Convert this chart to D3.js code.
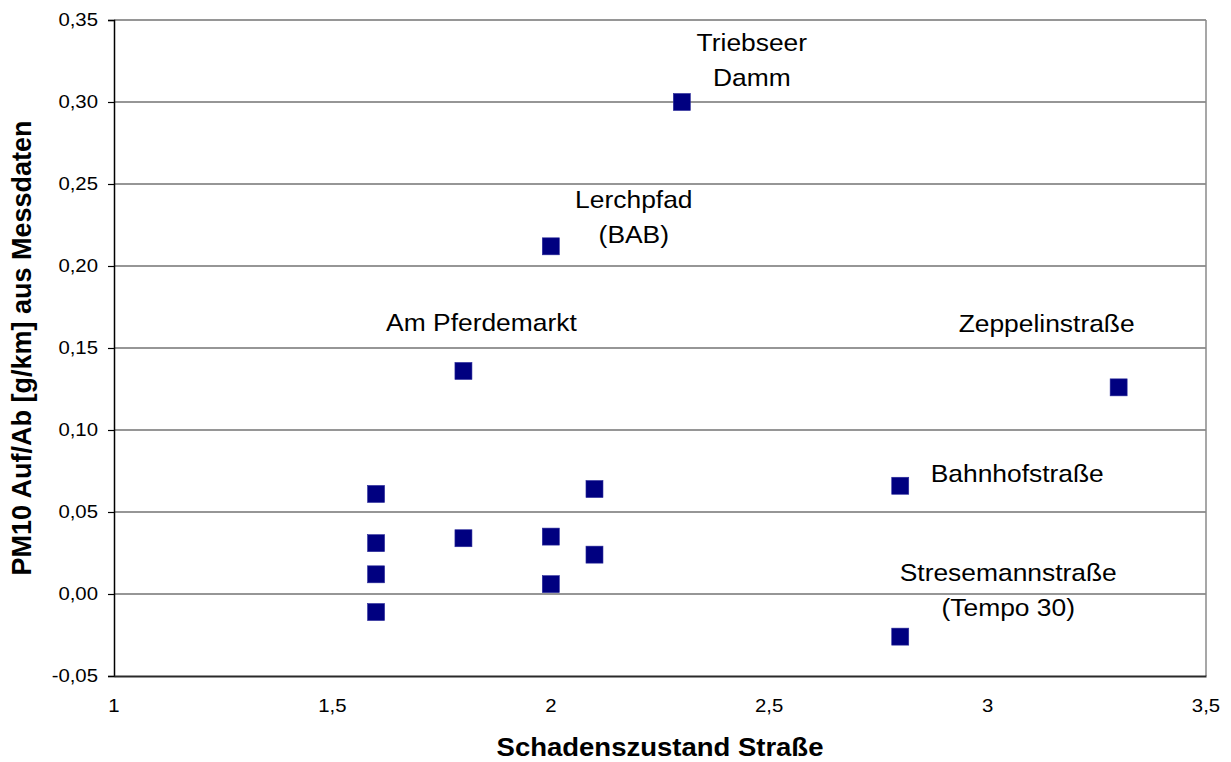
<!DOCTYPE html>
<html>
<head>
<meta charset="utf-8">
<script src="https://cdn.jsdelivr.net/npm/d3@7/dist/d3.min.js"></script>
<style>
  html, body { margin: 0; padding: 0; background: #fff; }
  svg { display: block; font-family: "Liberation Sans", Arial, sans-serif; }
</style>
</head>
<body>
<svg id="chart" width="1231" height="762"></svg>
<script>
// Schadenszustand (x) vs. PM10 Auf/Ab emission (y)
const schadenszustand = [2.3, 2.0, 1.8, 3.3, 2.8, 2.8, 1.6, 1.6, 1.6, 1.6, 1.8, 2.0, 2.0, 2.1, 2.1];
const pm10AufAb      = [0.300, 0.212, 0.136, 0.126, 0.066, -0.026, 0.061, 0.031, 0.012, -0.011, 0.034, 0.035, 0.006, 0.064, 0.024];
const pointLabels    = [["Triebseer", "Damm"], ["Lerchpfad", "(BAB)"], ["Am Pferdemarkt"], ["Zeppelinstraße"],
                        ["Bahnhofstraße"], ["Stresemannstraße", "(Tempo 30)"], [], [], [], [], [], [], [], [], []];
const xTicks = [1, 1.5, 2, 2.5, 3, 3.5];
const yTicks = [-0.05, 0, 0.05, 0.10, 0.15, 0.20, 0.25, 0.30, 0.35];
const xTitle = "Schadenszustand Straße";
const yTitle = "PM10 Auf/Ab [g/km] aus Messdaten";

// label placement relative to its marker: [dx, first-line dy]
const labelOffsets = [[70, -51], [83, -38], [18, -40], [-72, -55], [117, -4], [108, -56]];
const LINE_GAP = 35;

const svg = d3.select("#chart");
const plot = { left: 114, right: 1206, top: 20, bottom: 676 };
const STRETCH = 1.1; // slight horizontal widening of all lettering

const x = d3.scaleLinear().domain([1, 3.5]).range([plot.left, plot.right]);
const y = d3.scaleLinear().domain([-0.05, 0.35]).range([plot.bottom, plot.top]);

const fmtX = d => String(d).replace(".", ",");
const fmtY = d => d3.format(".2f")(d).replace(".", ",").replace("−", "-");

function stretchedText(g, px, py, txt, opts) {
  const t = g.append("text")
    .attr("transform", `translate(${px},${py}) scale(${STRETCH},1)`)
    .attr("text-anchor", opts.anchor || "middle")
    .attr("font-size", opts.size)
    .attr("font-weight", opts.weight || "normal")
    .attr("fill", "#000")
    .text(txt);
  if (opts.dy) t.attr("dy", opts.dy);
  return t;
}

// horizontal gridlines
svg.append("g").selectAll("line").data(yTicks.filter(v => v > -0.05)).join("line")
  .attr("x1", plot.left).attr("x2", plot.right)
  .attr("y1", d => y(d)).attr("y2", d => y(d))
  .attr("stroke", "#737373").attr("stroke-width", 1.5);

// right border
svg.append("line")
  .attr("x1", plot.right).attr("x2", plot.right)
  .attr("y1", plot.top).attr("y2", plot.bottom)
  .attr("stroke", "#8a8a8a").attr("stroke-width", 1.5);

// y axis with ticks
const yAxis = d3.axisLeft(y).tickValues(yTicks).tickSize(6).tickFormat("");
const yG = svg.append("g").attr("transform", `translate(${plot.left},0)`).call(yAxis);
yG.select(".domain").attr("stroke", "#000").attr("stroke-width", 1.5);
yG.selectAll(".tick line").attr("stroke", "#000").attr("stroke-width", 1.2);
const yLab = svg.append("g");
yTicks.forEach(v => stretchedText(yLab, 98, y(v), fmtY(v), { size: 18.5, anchor: "end", dy: "0.35em" }));

// x axis (no tick marks)
const xAxis = d3.axisBottom(x).tickValues(xTicks).tickSize(0).tickFormat("");
const xG = svg.append("g").attr("transform", `translate(0,${plot.bottom})`).call(xAxis);
xG.select(".domain").attr("stroke", "#2a2a2a").attr("stroke-width", 1.8);
const xLab = svg.append("g");
xTicks.forEach(v => stretchedText(xLab, x(v), 706, fmtX(v), { size: 18.5, dy: "0.35em" }));

// axis titles
stretchedText(svg, (plot.left + plot.right) / 2, 756, xTitle, { size: 25, weight: "bold" });
svg.append("text")
  .attr("transform", `translate(31,${(plot.top + plot.bottom) / 2}) rotate(-90)`)
  .attr("text-anchor", "middle")
  .attr("font-size", 27)
  .attr("font-weight", "bold")
  .text(yTitle);

// markers
const S = 17;
svg.append("g").selectAll("rect").data(schadenszustand.map((v, i) => [v, pm10AufAb[i]])).join("rect")
  .attr("x", d => x(d[0]) - S / 2).attr("y", d => y(d[1]) - S / 2)
  .attr("width", S).attr("height", S)
  .attr("fill", "#000080").attr("stroke", "#2a2a9a").attr("stroke-width", 0.6);

// point labels
const lg = svg.append("g");
labelOffsets.forEach((off, i) => {
  pointLabels[i].forEach((line, k) => {
    stretchedText(lg, x(schadenszustand[i]) + off[0], y(pm10AufAb[i]) + off[1] + k * LINE_GAP, line, { size: 24 });
  });
});
</script>
</body>
</html>
